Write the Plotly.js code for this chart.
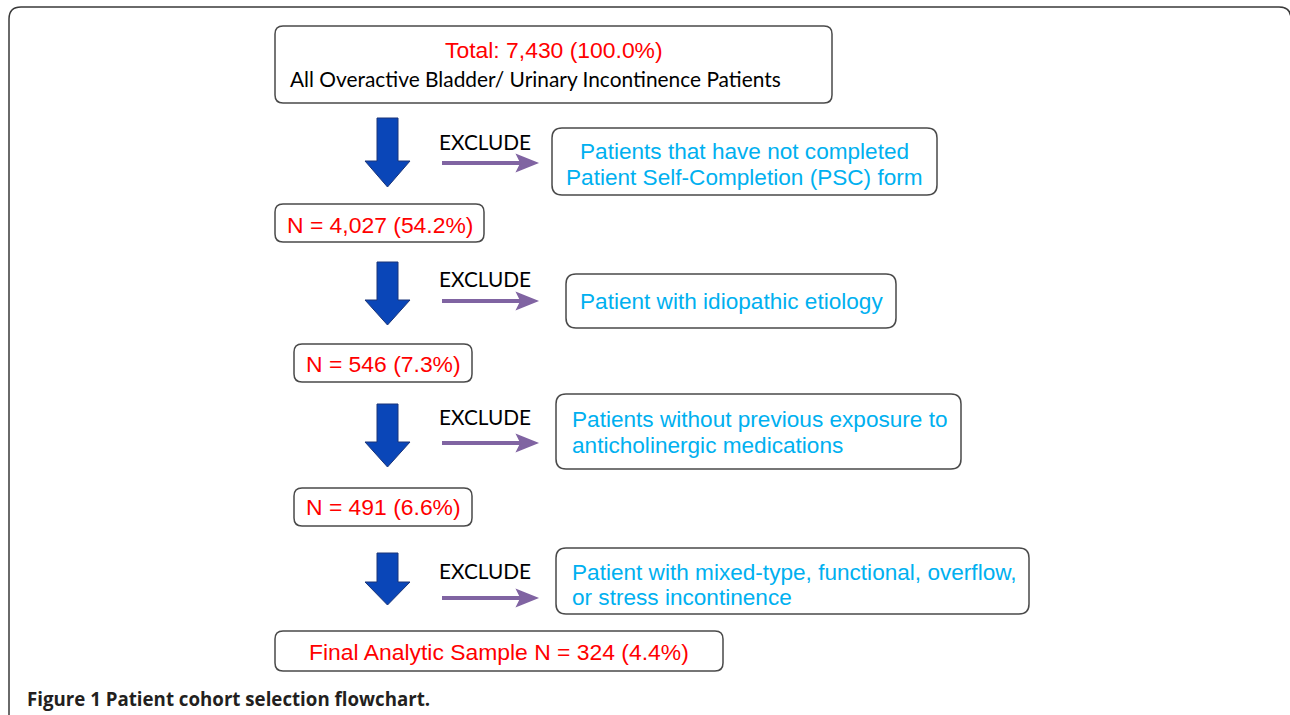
<!DOCTYPE html>
<html>
<head>
<meta charset="utf-8">
<script src="https://cdn.plot.ly/plotly-3.0.1.min.js"></script>
<style>html,body{margin:0;padding:0;background:#fff;}#chart{width:1290px;height:715px;}</style>
</head>
<body>
<div id="chart"></div>
<script>
// ---- data ----
const stageLabels = ["Total:", "N =", "N =", "N =", "Final Analytic Sample N ="];
const stageCounts = ["7,430", "4,027", "546", "491", "324"];
const stagePercents = ["100.0%", "54.2%", "7.3%", "6.6%", "4.4%"];
const cohortDescription = "All Overactive Bladder/ Urinary Incontinence Patients";
const excludeLabel = "EXCLUDE";
const exclusionReasons = [
  ["Patients that have not completed", "Patient Self-Completion (PSC) form"],
  ["Patient with idiopathic etiology"],
  ["Patients without previous exposure to", "anticholinergic medications"],
  ["Patient with mixed-type, functional, overflow,", "or stress incontinence"]
];
const captionBold = "Figure 1";
const captionText = "Patient cohort selection flowchart.";

// ---- layout geometry (pixel coordinates, y downwards) ----
const stageBoxes = [[275,26,832,103],[275,204,484,242],[294,344,472,382],[294,488,472,526],[275,631,723,671]];
const stageTextY = [50,225,364,507,652];
const reasonBoxes = [[552,128,937,195],[566,274,896,328],[556,394,961,469],[556,548,1029,614]];
const reasonLineY = [[151,177],[301],[419,445],[572,597]];
const reasonAlign = ["center","center","left","left"];
const downArrows = [[118,161,187],[262,300,325],[404,442,467],[553,582,605]];
const excludeY = [141,278,416,570];
const sideArrowY = [163,301,443,598];

const RED = "#ff0000", CYAN = "#00b0f0", PURPLE = "#8064a2";
const ARIAL = "Liberation Sans, Arial, sans-serif";
const CALIBRI = "Lato, sans-serif";

function roundRect(x0,y0,x1,y1,r){
  return `M${x0+r},${y0} L${x1-r},${y0} Q${x1},${y0} ${x1},${y0+r} L${x1},${y1-r} Q${x1},${y1} ${x1-r},${y1} L${x0+r},${y1} Q${x0},${y1} ${x0},${y1-r} L${x0},${y0+r} Q${x0},${y0} ${x0+r},${y0} Z`;
}

const shapes = [];
const annotations = [];

// outer frame
shapes.push({type:"path", xref:"x", yref:"y", path: roundRect(9,7,1291,740,12), line:{color:"#3a3a3a", width:1.5}, fillcolor:"rgba(0,0,0,0)"});

// stage boxes
stageBoxes.forEach((b,i)=>{
  shapes.push({type:"path", xref:"x", yref:"y", path: roundRect(b[0],b[1],b[2],b[3],8), line:{color:"#4a4a4a", width:1.5}, fillcolor:"#ffffff"});
  annotations.push({xref:"x", yref:"y", x:(b[0]+b[2])/2, y:stageTextY[i], text: `${stageLabels[i]} ${stageCounts[i]} (${stagePercents[i]})`, showarrow:false, xanchor:"center", yanchor:"middle", font:{family:ARIAL, size:22.9, color:RED}});
});
annotations.push({xref:"x", yref:"y", x:535, y:78, text: cohortDescription, showarrow:false, xanchor:"center", yanchor:"middle", font:{family:CALIBRI, size:20.9, color:"#000"}});

// reason boxes
reasonBoxes.forEach((b,i)=>{
  shapes.push({type:"path", xref:"x", yref:"y", path: roundRect(b[0],b[1],b[2],b[3],10), line:{color:"#4a4a4a", width:1.5}, fillcolor:"#ffffff"});
  exclusionReasons[i].forEach((line,j)=>{
    const left = reasonAlign[i] === "left";
    annotations.push({xref:"x", yref:"y", x: left ? b[0]+14 : (b[0]+b[2])/2, y: reasonLineY[i][j], text: line, showarrow:false, xanchor: left ? "left" : "center", yanchor:"middle", font:{family:ARIAL, size:22.6, color:CYAN}});
  });
});

// blue down arrows
downArrows.forEach(a=>{
  const cx = 387.5, sw = 10.5, hw = 22.5;
  const p = `M${cx-sw},${a[0]} L${cx+sw},${a[0]} L${cx+sw},${a[1]} L${cx+hw},${a[1]} L${cx},${a[2]} L${cx-hw},${a[1]} L${cx-sw},${a[1]} Z`;
  shapes.push({type:"path", xref:"x", yref:"y", path:p, fillcolor:"#0a46b8", line:{color:"#1a3478", width:1}});
});

// exclude labels and purple arrows
excludeY.forEach((y,i)=>{
  annotations.push({xref:"x", yref:"y", x:485, y:y, text: excludeLabel, showarrow:false, xanchor:"center", yanchor:"middle", font:{family:CALIBRI, size:20.8, color:"#000"}});
  const ay = sideArrowY[i];
  shapes.push({type:"line", xref:"x", yref:"y", x0:442, x1:524, y0:ay, y1:ay, line:{color:PURPLE, width:4}});
  const p = `M537,${ay} L517,${ay-8} L521,${ay} L517,${ay+8} Z`;
  shapes.push({type:"path", xref:"x", yref:"y", path:p, fillcolor:PURPLE, line:{color:PURPLE, width:1.5}});
});

// caption
annotations.push({xref:"x", yref:"y", x:25, y:698, text:`<b>${captionBold} ${captionText}</b>`, showarrow:false, xanchor:"left", yanchor:"middle", font:{family:"Open Sans, sans-serif", size:18.7, color:"#231f20"}});

const layout = {
  width:1290, height:715,
  margin:{l:0,r:0,t:0,b:0},
  paper_bgcolor:"#ffffff", plot_bgcolor:"#ffffff",
  xaxis:{range:[0,1290], visible:false, fixedrange:true},
  yaxis:{range:[715,0], visible:false, fixedrange:true},
  showlegend:false,
  shapes: shapes,
  annotations: annotations
};

Plotly.newPlot("chart", [{x:[], y:[], type:"scatter", mode:"markers", hoverinfo:"skip"}], layout, {staticPlot:true, displayModeBar:false});
</script>
</body>
</html>
